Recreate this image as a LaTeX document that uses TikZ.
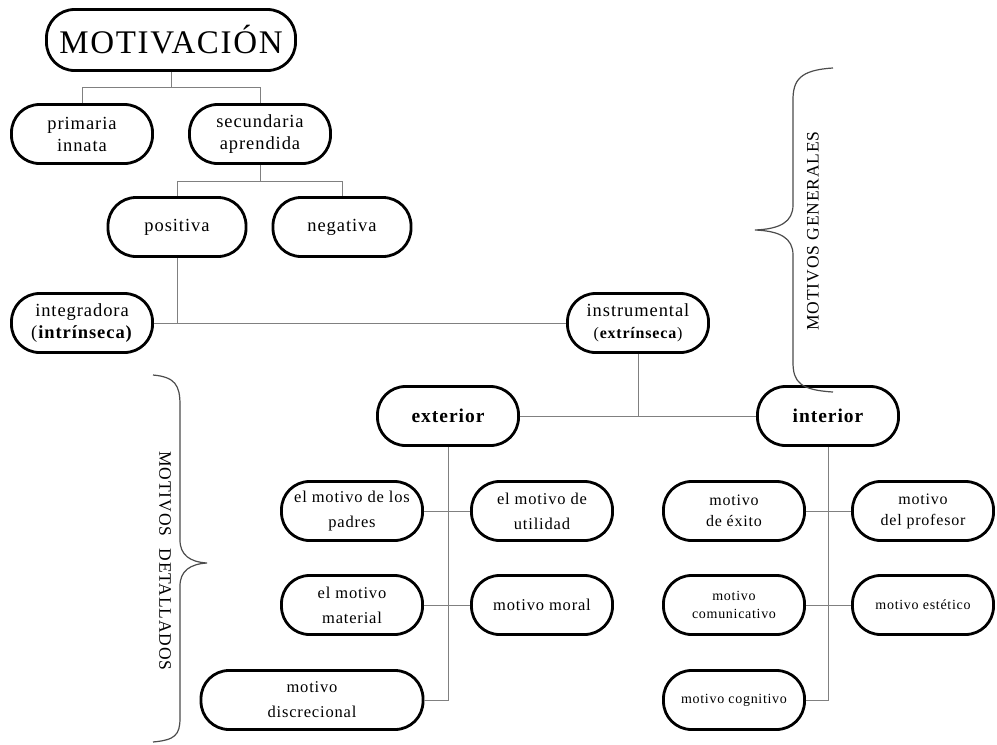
\documentclass[tikz,border=0pt]{standalone}
\usepackage{fontspec}
\setmainfont{Liberation Serif}[LetterSpace=5]
\usetikzlibrary{calc}
\begin{document}
\begin{tikzpicture}[x=1pt,y=-1pt,
  box/.style={draw, line width=2.8pt, rounded corners=28pt, minimum height=59pt,
    minimum width=141pt, align=center, inner sep=2pt},
  fA/.style={font=\fontsize{18.5}{22}\selectfont},
  fB/.style={font=\fontsize{16.5}{25}\selectfont},
  fC/.style={font=\fontsize{16}{21}\selectfont},
  fD/.style={font=\fontsize{14}{18}\selectfont},
  conn/.style={draw=black!50, line width=1pt},
  bracestyle/.style={draw=black!70, line width=1.2pt},
  bracetext/.style={font=\fontsize{17.5}{20}\selectfont}]
\useasboundingbox (0,0) rectangle (997,745);
% nodes
\node[box, minimum width=249pt, minimum height=61pt, font=\fontsize{33}{40}\selectfont] (mot) at (171,40) {MOTIVACIÓN};
\node[box, fA] (prim) at (82,134) {primaria\\innata};
\node[box, fA] (sec) at (260,134) {secundaria\\aprendida};
\node[box, fA, minimum width=138pt] (pos) at (177,227) {positiva};
\node[box, fA, minimum width=138pt] (neg) at (342,227) {negativa};
\node[box, fA] (integ) at (82,323) {integradora\\(\textbf{intrínseca)}};
\node[box, fA] (instr) at (638,323) {instrumental\\{\fontsize{16}{20}\selectfont(\textbf{extrínseca})}};
\node[box, font=\fontsize{19.5}{24}\selectfont\bfseries] (ext) at (448,416) {exterior};
\node[box, font=\fontsize{19.5}{24}\selectfont\bfseries] (int) at (828,416) {interior};
\node[box, fB] (padres) at (352,511) {el motivo de los\\padres};
\node[box, fB] (util) at (542,511) {el motivo de\\utilidad};
\node[box, fB] (mat) at (352,605) {el motivo\\material};
\node[box, fB] (moral) at (542,605) {motivo moral};
\node[box, fB, minimum width=222pt] (discr) at (312,700) {motivo\\discrecional};
\node[box, fC] (exito) at (734,511) {motivo\\de éxito};
\node[box, fC] (prof) at (923,511) {motivo\\del profesor};
\node[box, fD] (comun) at (734,605) {motivo\\comunicativo};
\node[box, fD] (estet) at (923,605) {motivo estético};
\node[box, fD] (cogn) at (734,700) {motivo cognitivo};
% connectors
\coordinate (j1) at ($(mot.south)+(0,16)$);
\draw[conn] (mot.south) -- (j1);
\draw[conn] (prim.north) |- (j1) -| (sec.north);
\coordinate (j2) at ($(sec.south)+(0,17)$);
\draw[conn] (sec.south) -- (j2);
\draw[conn] (pos.north) |- (j2) -| (neg.north);
\draw[conn] (pos.south) -- (pos.south |- integ.east);
\draw[conn] (integ.east) -- (instr.west);
\draw[conn] (instr.south) -- (instr.south |- ext.east);
\draw[conn] (ext.east) -- (int.west);
\draw[conn] (ext.south) |- (discr.east);
\draw[conn] (padres.east) -- (util.west);
\draw[conn] (mat.east) -- (moral.west);
\draw[conn] (int.south) |- (cogn.east);
\draw[conn] (exito.east) -- (prof.west);
\draw[conn] (comun.east) -- (estet.west);
% braces
\draw[bracestyle] (833,68) .. controls (800,70) and (793,80) .. (793,100) -- (793,205)
  .. controls (793,222) and (780,229) .. (755,230)
  .. controls (780,231) and (793,238) .. (793,255) -- (793,362)
  .. controls (793,382) and (800,390) .. (833,392);
\node[bracetext, rotate=90] (gen) at (813,231) {MOTIVOS\hspace{0.3em}GENERALES};
\draw[bracestyle] (153,375) .. controls (175,377) and (180,385) .. (180,405) -- (180,540)
  .. controls (180,555) and (190,562) .. (207,563)
  .. controls (190,564) and (180,571) .. (180,586) -- (180,718)
  .. controls (180,735) and (175,740) .. (153,742);
\node[bracetext, rotate=-90] (det) at (165,561) {MOTIVOS\hspace{0.7em}DETALLADOS};
\end{tikzpicture}
\end{document}
